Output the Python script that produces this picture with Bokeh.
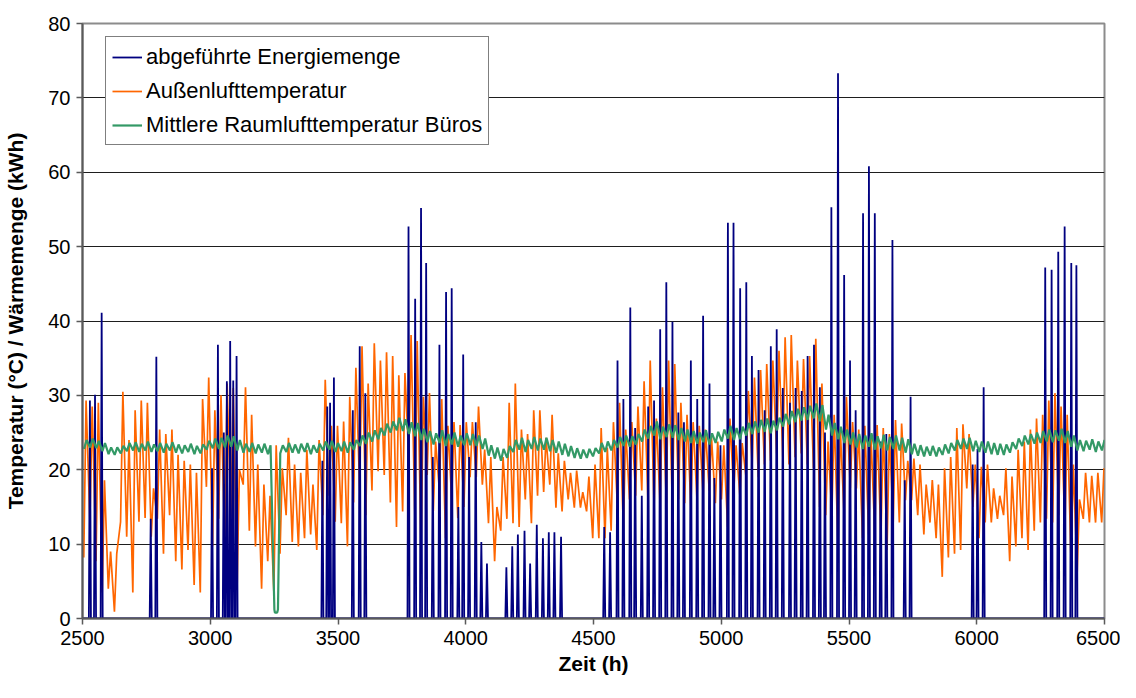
import numpy as np
from bokeh.plotting import figure
from bokeh.models import Range1d, FixedTicker, Legend, LegendItem
from bokeh.embed import file_html
from bokeh.resources import INLINE

# ---------------- data ----------------
START_HOUR = 2500
END_HOUR = 6500

# Outdoor air temperature: daily maximum / minimum (day 0 starts at hour 2500)
out_max = [
    29.3, 28.5, 29.0, 18.6, 9.0, 8.7, 30.5, 24.0, 28.0, 29.3, 29.0, 17.5, 25.4, 24.8, 25.4, 22.0, 21.2, 20.7, 19.6, 29.5, 32.4,
    28.0, 30.0, 31.6, 31.0, 20.0, 31.1, 27.4, 20.7, 18.0, 16.5, 23.3, 20.2, 24.3, 20.7, 19.6, 22.7, 18.0, 24.0, 32.1, 25.9, 25.9,
    26.5, 29.8, 33.7, 36.6, 31.6, 37.0, 34.7, 35.8, 35.3, 32.7, 33.0, 38.1, 37.3, 29.8, 30.3, 23.8, 29.5, 25.9, 26.4, 26.0, 26.4,
    26.4, 28.5, 22.7, 21.7, 15.0, 21.7, 29.0, 31.6, 25.4, 24.8, 28.0, 28.0, 24.3, 27.4, 22.2, 21.2, 19.6, 19.9, 17.0, 19.1, 20.7,
    25.6, 23.0, 26.4, 29.0, 25.4, 26.4, 28.5, 31.9, 34.7, 26.9, 31.1, 34.7, 34.2, 29.0, 27.4, 26.4, 25.9, 25.4, 24.3, 23.8, 23.3,
    26.9, 23.3, 23.6, 30.6, 32.4, 33.4, 34.2, 34.7, 36.0, 37.8, 38.1, 34.7, 34.9, 35.3, 37.6, 31.6, 23.8, 27.4, 25.4, 29.8, 26.4,
    25.4, 25.9, 24.6, 26.0, 25.6, 24.8, 26.7, 26.2, 21.2, 21.5, 20.7, 18.0, 18.6, 18.0, 20.2, 21.7, 25.6, 26.1, 24.8, 20.7, 20.4,
    20.7, 17.5, 16.5, 20.2, 19.1, 22.7, 23.8, 25.4, 26.9, 27.4, 29.3, 30.3, 28.5, 27.4, 20.7, 16.0, 19.6, 19.2, 19.6, 20.2,
]
out_min = [
    8.2, 13.0, 7.7, 3.5, 4.0, 0.9, 13.0, 11.0, 3.5, 13.0, 13.5, 11.0, 13.4, 8.7, 13.9, 7.7, 6.6, 9.2, 4.5, 3.5, 17.7,
    9.7, 13.4, 9.7, 13.0, 4.0, 18.0, 11.8, 9.7, 4.0, 7.7, 3.5, 8.7, 13.9, 10.3, 9.7, 10.8, 11.3, 9.2, 13.9, 16.5, 13.0,
    12.8, 9.7, 15.6, 17.2, 13.9, 17.2, 19.8, 19.3, 15.6, 12.3, 14.4, 21.7, 13.4, 9.2, 19.3, 14.4, 17.2, 10.8, 16.0, 13.5, 15.0,
    19.0, 19.0, 18.0, 12.8, 7.7, 11.8, 13.4, 12.8, 12.3, 16.0, 12.8, 16.5, 17.0, 18.0, 14.9, 14.4, 16.0, 14.9, 14.9, 14.4, 10.8,
    10.8, 10.8, 11.8, 15.5, 11.8, 16.0, 16.5, 17.2, 16.0, 15.0, 15.0, 15.5, 14.4, 16.0, 15.5, 15.0, 16.0, 16.5, 17.2, 15.5, 16.0,
    12.3, 17.0, 16.5, 19.0, 20.7, 19.0, 20.7, 21.2, 22.2, 21.7, 20.7, 21.7, 22.2, 20.7, 20.2, 15.0, 13.9, 13.9, 9.7, 13.9, 17.5,
    17.5, 10.8, 11.3, 11.3, 10.8, 9.2, 12.9, 12.9, 15.9, 15.9, 13.9, 11.3, 12.9, 10.8, 5.6, 8.2, 8.7, 9.2, 17.5, 15.0, 10.8,
    12.9, 12.9, 13.4, 13.9, 7.7, 9.7, 10.8, 9.2, 11.8, 12.9, 13.4, 12.9, 13.9, 11.8, 7.7, 6.1, 13.4, 12.9, 12.9, 12.9,
]

# Mean office room air temperature: daily maximum / minimum
room_max = [
    24.0, 24.2, 23.9, 23.6, 23.0, 23.0, 23.2, 23.6, 23.7, 23.5, 23.8, 23.4, 23.6, 23.5, 23.7, 23.4, 23.3, 23.5, 23.2, 23.4, 23.9,
    24.2, 24.3, 24.6, 24.5, 24.0, 23.5, 23.6, 23.4, 23.5, 23.3, 23.4, 23.3, 23.6, 23.4, 23.5, 23.6, 23.3, 23.5, 23.8, 23.9, 23.6,
    23.8, 23.7, 24.0, 24.6, 25.0, 25.3, 25.6, 26.2, 26.5, 27.0, 26.8, 26.4, 26.3, 25.5, 25.2, 24.9, 25.3, 24.8, 25.0, 24.6, 24.9,
    24.8, 24.6, 24.2, 23.3, 23.0, 22.8, 23.2, 24.0, 24.3, 24.0, 24.4, 24.2, 24.3, 24.0, 23.8, 23.5, 23.2, 22.9, 22.7, 22.8, 22.9,
    23.6, 23.8, 24.0, 24.4, 24.6, 24.5, 24.8, 25.4, 25.9, 26.5, 25.8, 26.1, 26.0, 25.6, 25.4, 25.2, 25.0, 25.3, 24.9, 25.1, 25.4,
    25.9, 25.6, 25.8, 26.3, 26.5, 26.7, 26.9, 26.6, 27.0, 27.5, 27.9, 28.2, 28.4, 28.6, 28.9, 28.7, 27.4, 26.3, 25.8, 25.4, 25.0,
    24.8, 24.6, 24.9, 24.5, 24.7, 24.4, 24.6, 24.3, 24.1, 23.5, 23.3, 23.1, 23.2, 23.0, 23.4, 23.6, 24.0, 24.2, 24.3, 23.9, 23.8,
    23.8, 23.6, 23.5, 23.4, 23.7, 24.2, 24.6, 24.8, 25.0, 25.2, 25.4, 25.3, 25.5, 25.2, 24.6, 24.0, 23.9, 24.1, 23.8, 24.0,
]
room_min = [
    22.8, 23.0, 22.9, 22.5, 22.1, 22.0, 22.2, 22.5, 22.6, 22.4, 22.6, 22.4, 22.5, 22.3, 22.6, 22.3, 22.2, 22.4, 22.1, 22.2, 22.7,
    22.9, 22.8, 23.0, 23.1, 22.6, 22.3, 22.4, 22.2, 22.3, 22.1, 22.2, 22.2, 22.4, 22.3, 22.2, 22.4, 22.1, 22.3, 22.6, 22.7, 22.4,
    22.5, 22.3, 22.7, 23.2, 23.5, 23.8, 24.1, 24.6, 25.0, 25.3, 25.2, 24.8, 24.5, 24.0, 23.7, 23.4, 23.6, 23.2, 23.4, 23.1, 23.3,
    23.3, 23.2, 22.8, 21.9, 21.5, 21.2, 21.6, 22.4, 22.7, 22.4, 22.8, 22.6, 22.7, 22.5, 22.3, 22.0, 21.8, 21.6, 21.5, 21.6, 21.8,
    22.2, 22.4, 22.6, 23.0, 23.2, 23.1, 23.4, 23.8, 24.2, 24.6, 24.1, 24.4, 24.3, 24.0, 23.8, 23.6, 23.5, 23.7, 23.4, 23.6, 23.8,
    24.2, 24.0, 24.1, 24.6, 24.8, 25.0, 25.1, 24.9, 25.3, 25.8, 26.1, 26.4, 26.6, 26.7, 26.9, 26.5, 25.4, 24.6, 24.1, 23.6, 23.4,
    23.0, 22.8, 23.1, 22.7, 22.9, 22.6, 22.8, 22.6, 22.3, 22.1, 21.9, 21.8, 21.9, 21.8, 22.0, 22.2, 22.6, 22.8, 22.8, 22.5, 22.4,
    22.3, 22.1, 22.0, 22.0, 22.3, 22.8, 23.2, 23.4, 23.5, 23.6, 23.8, 23.7, 23.9, 23.6, 23.1, 22.6, 22.5, 22.7, 22.4, 22.6,
]
# short sensor drop of the room temperature
room_drop_hours = [3251, 3253, 3262, 3265]
room_drop_values = [1.2, 0.8, 0.8, 1.2]

# Removed energy: hour and peak value of each daily pulse (kWh)
energy_hours = [
    2529, 2549, 2575, 2767, 2789,
    3007, 3030, 3053, 3065, 3078, 3090, 3103,
    3439, 3458, 3469, 3484,
    3558, 3585, 3607, 3776, 3802, 3825, 3845, 3871, 3897, 3923, 3945, 3971, 3990,
    4013, 4039, 4061, 4083, 4159, 4182, 4204, 4230, 4252, 4278, 4302, 4325, 4347, 4373,
    4542, 4565, 4594, 4617, 4644, 4663, 4689, 4714, 4737, 4761, 4785, 4809, 4832, 4854, 4881, 4906, 4929, 4954, 4973, 4997,
    5026, 5048, 5074, 5098, 5120, 5146, 5170, 5194, 5217, 5241, 5269, 5291, 5315, 5338, 5363, 5386, 5406, 5431, 5457, 5481, 5504, 5526,
    5555, 5578, 5601, 5624, 5646, 5670, 5718, 5741,
    5984, 6003, 6027,
    6268, 6293, 6319, 6344, 6370, 6390,
]
energy_peaks = [
    29.3, 30.1, 41.1, 13.4, 35.2,
    20.2, 36.8, 25.0, 31.9, 37.3, 32.0, 35.3,
    21.2, 28.5, 29.0, 32.4,
    28.0, 36.6, 30.3, 52.7, 43.0, 55.2, 47.8, 21.7, 36.8, 43.9, 44.4, 15.0, 35.5,
    21.7, 26.4, 10.3, 7.4, 6.9, 9.7, 11.3, 11.8, 7.4, 12.6, 10.8, 11.6, 11.6, 11.0,
    12.3, 11.6, 34.7, 29.5, 41.8, 25.6, 16.5, 28.5, 29.3, 38.9, 45.2, 39.9, 27.7, 26.4, 34.7, 29.5, 40.7, 31.6, 18.9, 23.3,
    53.2, 53.2, 44.4, 45.2, 35.3, 33.4, 28.0, 36.6, 38.9, 31.0, 29.0, 31.0, 30.6, 35.3, 36.8, 31.1, 25.0, 55.3, 73.3, 46.2, 34.7, 28.0,
    54.5, 60.8, 54.5, 23.8, 24.8, 50.9, 18.6, 29.8,
    20.7, 22.8, 31.1,
    47.2, 46.9, 49.3, 52.7, 47.8, 47.5,
]

x_ticks = [2500, 3000, 3500, 4000, 4500, 5000, 5500, 6000, 6500]
y_ticks = [0, 10, 20, 30, 40, 50, 60, 70, 80]

series_names = ["abgeführte Energiemenge", "Außenlufttemperatur",
                "Mittlere Raumlufttemperatur Büros"]
colors = ["#000080", "#FF6600", "#339966"]

# ---------------- build the line coordinates ----------------
n_days = len(out_max)
day_start = START_HOUR + 24 * np.arange(n_days)

# outdoor: minimum early morning, maximum early afternoon
ox = np.empty(2 * n_days)
oy = np.empty(2 * n_days)
ox[0::2] = day_start + 5
oy[0::2] = out_min
ox[1::2] = day_start + 14
oy[1::2] = out_max

# room: minimum morning, maximum late afternoon
gx = np.empty(2 * n_days)
gy = np.empty(2 * n_days)
gx[0::2] = day_start + 6
gy[0::2] = room_min
gx[1::2] = day_start + 16
gy[1::2] = room_max
keep = (gx < room_drop_hours[0] - 1) | (gx > room_drop_hours[-1] + 1)
gx = np.concatenate([gx[keep], room_drop_hours])
gy = np.concatenate([gy[keep], room_drop_values])
order = np.argsort(gx)
gx, gy = gx[order], gy[order]

# energy: narrow pulses on a zero baseline
ex = [START_HOUR]
ey = [0.0]
for h, v in zip(energy_hours, energy_peaks):
    ex += [h - 4, h, h + 4]
    ey += [0.0, v, 0.0]
ex.append(END_HOUR)
ey.append(0.0)

# ---------------- figure ----------------
FONT = "Liberation Sans"

p = figure(width=1120, height=682, output_backend="svg", toolbar_location=None,
           x_range=Range1d(START_HOUR, END_HOUR), y_range=Range1d(0, 80),
           min_border_left=82, min_border_right=16, min_border_top=23,
           min_border_bottom=64, background_fill_color="white",
           border_fill_color="white")

p.outline_line_color = "#8c8c8c"
p.outline_line_width = 2

p.xgrid.visible = False
p.ygrid.ticker = FixedTicker(ticks=y_ticks)
p.ygrid.grid_line_color = "#1e1e1e"
p.ygrid.grid_line_width = 1

p.xaxis.ticker = FixedTicker(ticks=x_ticks)
p.yaxis.ticker = FixedTicker(ticks=y_ticks)
for ax in (p.xaxis[0], p.yaxis[0]):
    ax.axis_line_color = "#5a5a5a"
    ax.axis_line_width = 2
    ax.major_tick_line_color = "#5a5a5a"
    ax.major_tick_line_width = 1.5
    ax.major_tick_out = 6
    ax.major_tick_in = 0
    ax.minor_tick_out = 0
    ax.minor_tick_in = 0
    ax.major_label_text_font = FONT
    ax.major_label_text_font_size = "20px"
    ax.major_label_text_color = "black"
    ax.axis_label_text_font = FONT
    ax.axis_label_text_font_size = "21px"
    ax.axis_label_text_font_style = "bold"
    ax.axis_label_text_color = "black"

p.xaxis.axis_label = "Zeit (h)"
p.yaxis.axis_label = "Temperatur (°C) / Wärmemenge (kWh)"
p.xaxis.major_label_standoff = 6
p.xaxis.axis_label_standoff = 4
p.yaxis.major_label_standoff = 6
p.yaxis.axis_label_standoff = 18

r_out = p.line(ox, oy, line_color=colors[1], line_width=1.7)
r_en = p.line(ex, ey, line_color=colors[0], line_width=1.8)
r_room = p.line(gx, gy, line_color=colors[2], line_width=2.2)

legend = Legend(items=[LegendItem(label=series_names[0], renderers=[r_en]),
                       LegendItem(label=series_names[1], renderers=[r_out]),
                       LegendItem(label=series_names[2], renderers=[r_room])],
                location=(23, 473))
legend.label_text_font = FONT
legend.label_text_font_size = "22px"
legend.label_text_color = "black"
legend.border_line_color = "black"
legend.border_line_width = 1
legend.background_fill_color = "white"
legend.background_fill_alpha = 1.0
legend.glyph_width = 30
legend.glyph_height = 24
legend.label_height = 27
legend.label_standoff = 4
legend.spacing = 7
legend.padding = 6
legend.margin = 0
p.add_layout(legend)

open("out.html", "w").write(file_html(p, INLINE))
